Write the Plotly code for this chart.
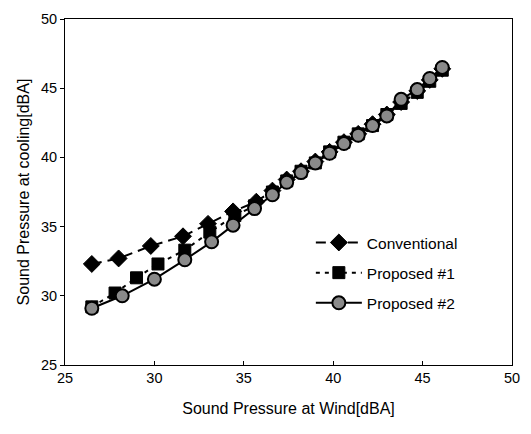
import plotly.graph_objects as go

conv_x = [26.5, 28.0, 29.8, 31.6, 33.0, 34.4, 35.7, 36.6, 37.4, 38.2, 39.0, 39.8, 40.6, 41.4, 42.2, 43.0, 43.8, 44.7, 45.4, 46.1]
conv_y = [32.3, 32.7, 33.6, 34.3, 35.2, 36.1, 36.8, 37.6, 38.4, 39.0, 39.7, 40.4, 41.1, 41.7, 42.4, 43.1, 44.0, 44.8, 45.6, 46.4]

p1_x = [26.5, 27.8, 29.0, 30.2, 31.7, 33.1, 34.5, 35.6, 36.6, 37.4, 38.2, 39.0, 39.8, 40.6, 41.4, 42.2, 43.0, 43.8, 44.7, 45.4, 46.1]
p1_y = [29.2, 30.2, 31.3, 32.3, 33.3, 34.6, 35.8, 36.5, 37.5, 38.3, 39.0, 39.6, 40.4, 41.1, 41.7, 42.3, 43.1, 43.9, 44.7, 45.5, 46.3]

p2_x = [26.5, 28.2, 30.0, 31.7, 33.2, 34.4, 35.6, 36.6, 37.4, 38.2, 39.0, 39.8, 40.6, 41.4, 42.2, 43.0, 43.8, 44.7, 45.4, 46.1]
p2_y = [29.1, 30.0, 31.2, 32.6, 33.9, 35.1, 36.3, 37.3, 38.2, 38.9, 39.6, 40.3, 41.0, 41.6, 42.3, 43.0, 44.2, 44.9, 45.7, 46.5]

x_ticks = [25, 30, 35, 40, 45, 50]
y_ticks = [25, 30, 35, 40, 45, 50]

FONT = "Liberation Sans, Arial, sans-serif"

fig = go.Figure()
fig.add_trace(go.Scatter(
    x=conv_x, y=conv_y, name="Conventional", mode="lines+markers", legendgroup="a",
    line=dict(color="black", width=2, dash="10px,6px"),
    marker=dict(symbol="diamond", size=13, color="black", line=dict(color="black", width=1)),
))
fig.add_trace(go.Scatter(
    x=p1_x, y=p1_y, name="Proposed #1", mode="lines+markers", legendgroup="b",
    line=dict(color="black", width=2, dash="4px,5px"),
    marker=dict(symbol="square", size=12, color="black", line=dict(color="black", width=1)),
))
fig.add_trace(go.Scatter(
    x=p2_x, y=p2_y, name="Proposed #2", mode="lines+markers", legendgroup="c",
    line=dict(color="black", width=2),
    marker=dict(symbol="circle", size=13, color="#8a8a8a", line=dict(color="black", width=2)),
))

fig.update_layout(
    width=531, height=434,
    margin=dict(l=65, r=18, t=11, b=69),
    paper_bgcolor="white", plot_bgcolor="white",
    font=dict(family=FONT, size=14, color="black"),
    showlegend=True,
    legend=dict(x=0.55, y=0.402, xanchor="left", yanchor="top",
                bgcolor="rgba(0,0,0,0)", font=dict(size=15.5, family=FONT),
                itemwidth=46, tracegroupgap=7),
)
fig.update_xaxes(
    range=[25, 50], tickvals=x_ticks, ticktext=[str(v) for v in x_ticks],
    showgrid=False, zeroline=False, showline=True, linecolor="black", linewidth=1,
    mirror=True, ticks="inside", ticklen=4, tickcolor="black",
    title=dict(text="Sound Pressure at Wind[dBA]", font=dict(size=16), standoff=17),
    tickfont=dict(size=14.5),
)
fig.update_yaxes(
    range=[25, 50], tickvals=y_ticks, ticktext=[str(v) for v in y_ticks],
    showgrid=False, zeroline=False, showline=True, linecolor="black", linewidth=1,
    mirror=True, ticks="outside", ticklen=4, tickcolor="black",
    title=dict(text="Sound Pressure at cooling[dBA]", font=dict(size=16), standoff=7),
    tickfont=dict(size=14.5),
)

fig.write_html("out.html")
